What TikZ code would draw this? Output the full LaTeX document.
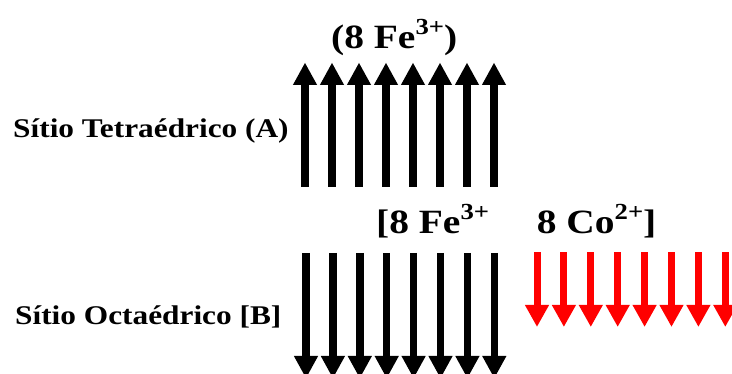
\documentclass[tikz,border=0pt]{standalone}
\usepackage{fontspec}
\setmainfont{Liberation Serif}[FakeStretch=1.16]
\usetikzlibrary{arrows.meta}
\definecolor{spinred}{RGB}{255,0,0}
\newcommand\ionsup[1]{\raisebox{13.5pt}{\fontsize{23}{25}\selectfont #1}}
\tikzset{
  spin/.style={line width=7.5pt, -{Triangle[width=22.5pt,length=22.5pt]}},
  redspin/.style={spin, line width=7pt, draw=spinred, -{Triangle[width=22.5pt,length=22pt]}},
  sitelabel/.style={anchor=base west, inner sep=0pt, font=\bfseries\fontsize{27}{30}\selectfont},
  ionlabel/.style={anchor=base west, inner sep=0pt, font=\bfseries\fontsize{34}{38}\selectfont}
}
\begin{document}
\begin{tikzpicture}[x=1pt,y=-1pt]
\path[use as bounding box, fill=white] (0,0) rectangle (732,374);
\clip (0,0) rectangle (732,374);
% labels
\node[ionlabel] (topion) at (331,48.3) {(8 Fe\ionsup{3+})};
\node[sitelabel] (siteA) at (13,137.3) {Sítio Tetraédrico (A)};
\node[sitelabel] (siteB) at (15,325) {Sítio Octaédrico [B]};
\node[ionlabel] (feB) at (376,233.3) {[8 Fe\ionsup{3+}};
\node[ionlabel] (coB) at (536.7,233.3) {8 Co\ionsup{2+}]};
% tetrahedral spins (up)
\foreach \i in {0,...,7}{
  \coordinate (ta\i s) at ({305+27*\i},187);
  \coordinate (ta\i e) at ({305+27*\i},62.5);
  \draw[spin] (ta\i s) -- (ta\i e);
}
% octahedral Fe spins (down)
\foreach \i in {0,...,7}{
  \coordinate (ob\i s) at ({306+26.9*\i},253);
  \coordinate (ob\i e) at ({306+26.9*\i},378.5);
  \draw[spin] (ob\i s) -- (ob\i e);
}
% octahedral Co spins (down, red)
\foreach \i in {0,...,7}{
  \coordinate (oc\i s) at ({537+26.9*\i},252.5);
  \coordinate (oc\i e) at ({537+26.9*\i},327);
  \draw[redspin] (oc\i s) -- (oc\i e);
}
\end{tikzpicture}
\end{document}
